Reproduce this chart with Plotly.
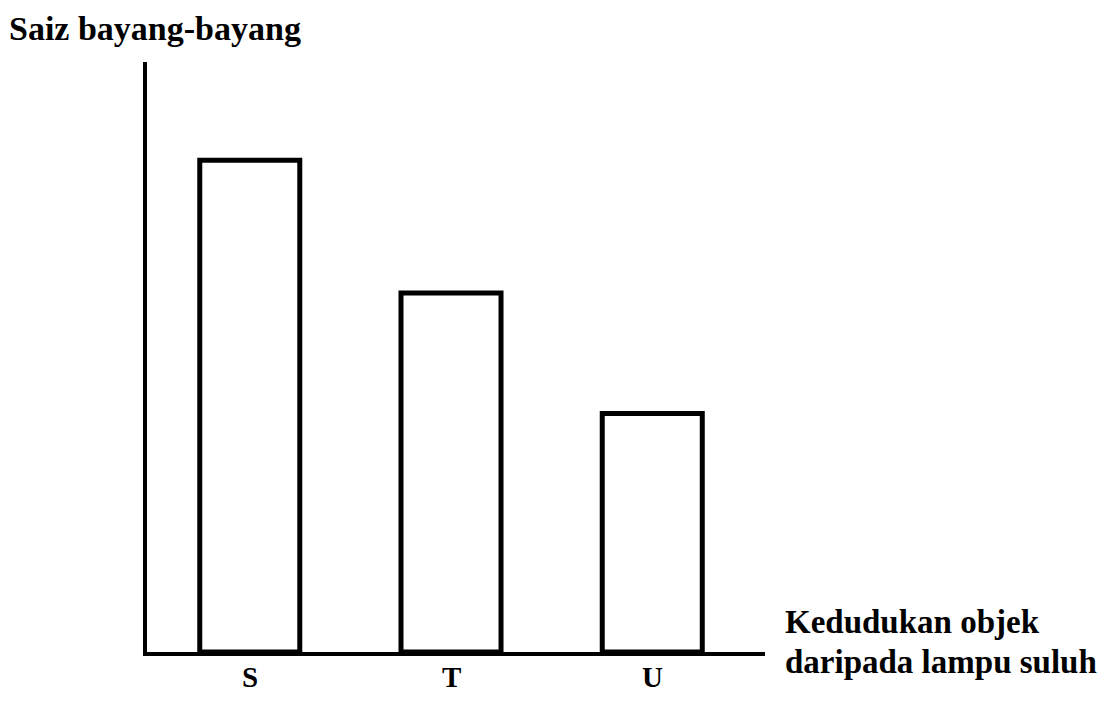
import plotly.graph_objects as go

# Data
positions = ["S", "T", "U"]
shadow_size = [10, 7.3, 4.85]

y_title = "Saiz bayang-bayang"
x_title_lines = ["Kedudukan objek", "daripada lampu suluh"]

FONT = "Liberation Serif"

# page body has an 8px margin, so the figure is drawn 8px right/down
OFF = 8
PL, PR, PT, PB = 147, 765, 62, 652  # plot area in window pixels


def px_x(px):
    return (px - PL) / (PR - PL)


def px_y(py):
    return (PB - py) / (PB - PT)


fig = go.Figure()
fig.add_trace(go.Bar(
    x=positions,
    y=shadow_size,
    width=0.497,
    marker=dict(color="white", line=dict(color="black", width=5)),
    hoverinfo="skip",
))

W, H = 1105 - OFF, 702 - 2 * OFF
annotations = [
    dict(text="<b>" + y_title + "</b>", xref="paper", yref="paper",
         x=px_x(8), y=px_y(28), xanchor="left", yanchor="middle", borderpad=0,
         showarrow=False, font=dict(family=FONT, size=34, color="black")),
]
for i, line in enumerate(x_title_lines):
    annotations.append(dict(
        text="<b>" + line + "</b>", xref="paper", yref="paper",
        x=px_x(783), y=px_y(622 + 40 * i), xanchor="left", yanchor="middle",
        align="left", showarrow=False, font=dict(family=FONT, size=33, color="black")))
# category labels under the bars
for p in positions:
    annotations.append(dict(
        text="<b>" + p + "</b>", xref="x", yref="paper",
        x=p, y=px_y(677), xanchor="center", yanchor="middle", borderpad=0,
        showarrow=False, font=dict(family=FONT, size=29, color="black")))

fig.update_layout(
    width=W,
    height=H,
    margin=dict(l=PL - OFF, r=W - (PR - OFF), t=PT - OFF, b=H - (PB - OFF)),
    paper_bgcolor="white",
    plot_bgcolor="white",
    showlegend=False,
    xaxis=dict(
        range=[-0.5106, 2.5602],
        showline=True, linecolor="black", linewidth=4,
        showgrid=False, zeroline=False, ticks="", showticklabels=False,
        automargin=False,
    ),
    yaxis=dict(
        range=[0, 12],
        showline=True, linecolor="black", linewidth=4,
        showgrid=False, zeroline=False, showticklabels=False, ticks="",
        automargin=False,
    ),
    annotations=annotations,
)

fig.write_html("out.html")
